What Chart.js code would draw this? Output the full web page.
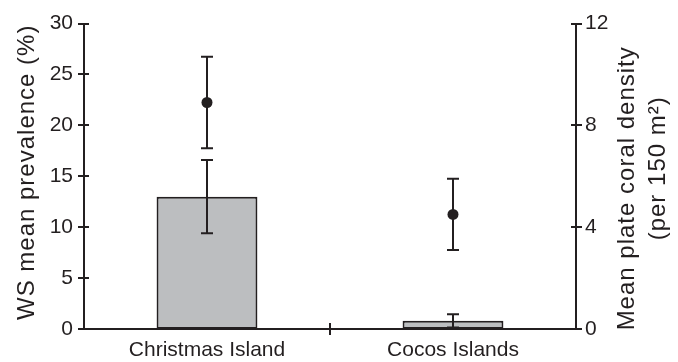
<!DOCTYPE html>
<html>
<head>
<meta charset="utf-8">
<script src="https://cdn.jsdelivr.net/npm/chart.js@4.4.1/dist/chart.umd.min.js"></script>
<style>
  html, body { margin: 0; padding: 0; background: #ffffff; }
  canvas { display: block; }
</style>
</head>
<body>
<canvas id="chart" width="678" height="362"></canvas>
<script>
// Sites
const categories = ['Christmas Island', 'Cocos Islands'];

// White syndrome mean prevalence (%) with error (bars, left axis)
const wsPrevalence = [13.0, 0.8];
const wsError = [3.6, 0.65];

// Mean plate coral density per 150 m2 with error (points, right axis)
const plateDensity = [8.9, 4.5];
const plateError = [1.8, 1.4];

// Axis tick values
const leftTicks = [0, 5, 10, 15, 20, 25, 30];
const rightTicks = [0, 4, 8, 12];

const leftTitle = 'WS mean prevalence (%)';
const rightTitle = ['Mean plate coral density', '(per 150 m\u00B2)'];

const INK = '#231f20';
const FONT = '"Liberation Sans", Arial, Helvetica, sans-serif';

// Error whiskers, axis tick marks and rotated axis titles
const decorations = {
  id: 'decorations',
  afterDatasetsDraw(chart) {
    const ctx = chart.ctx;
    const x = chart.scales.x;
    const sets = [
      { axis: chart.scales.y, mean: wsPrevalence, err: wsError },
      { axis: chart.scales.y1, mean: plateDensity, err: plateError }
    ];
    ctx.save();
    ctx.strokeStyle = INK;
    ctx.lineWidth = 2;
    ctx.lineCap = 'butt';
    sets.forEach(s => {
      s.mean.forEach((m, i) => {
        const px = Math.round(x.getPixelForValue(i));
        const top = s.axis.getPixelForValue(m + s.err[i]);
        const bot = s.axis.getPixelForValue(Math.max(0, m - s.err[i]));
        ctx.beginPath();
        ctx.moveTo(px, top); ctx.lineTo(px, bot);
        ctx.moveTo(px - 6, top); ctx.lineTo(px + 6, top);
        ctx.moveTo(px - 6, bot); ctx.lineTo(px + 6, bot);
        ctx.stroke();
      });
    });
    ctx.restore();
  },
  afterDraw(chart) {
    const ctx = chart.ctx;
    const { x, y, y1 } = chart.scales;
    const area = chart.chartArea;
    ctx.save();
    ctx.strokeStyle = INK;
    ctx.lineWidth = 2;
    ctx.beginPath();
    y.ticks.forEach(t => {
      const py = Math.round(y.getPixelForValue(t.value));
      ctx.moveTo(area.left - 6, py); ctx.lineTo(area.left + 5, py);
    });
    y1.ticks.forEach(t => {
      const py = Math.round(y1.getPixelForValue(t.value));
      ctx.moveTo(area.right - 5, py); ctx.lineTo(area.right + 6, py);
    });
    for (let i = 1; i < categories.length; i++) {
      const px = Math.round((x.getPixelForValue(i - 1) + x.getPixelForValue(i)) / 2);
      ctx.moveTo(px, area.bottom - 6); ctx.lineTo(px, area.bottom + 6);
    }
    ctx.stroke();

    ctx.fillStyle = INK;
    ctx.font = '24px ' + FONT;
    ctx.textAlign = 'center';
    ctx.textBaseline = 'alphabetic';
    const mid = (area.top + area.bottom) / 2;

    const drawUp = (text, bx, cy, spacing) => {
      ctx.save();
      if ('letterSpacing' in ctx) ctx.letterSpacing = spacing;
      ctx.translate(bx, cy);
      ctx.rotate(-Math.PI / 2);
      ctx.fillText(text, 0, 0);
      ctx.restore();
    };
    drawUp(leftTitle, 34, mid - 4, '1px');
    drawUp(rightTitle[0], 634, mid + 12, '1px');
    drawUp(rightTitle[1], 665, mid - 8, '1px');

    ctx.restore();
  }
};

new Chart(document.getElementById('chart'), {
  type: 'bar',
  data: {
    labels: categories,
    datasets: [
      {
        type: 'line',
        label: 'Plate coral density',
        data: plateDensity,
        yAxisID: 'y1',
        showLine: false,
        pointRadius: 5.5,
        pointBackgroundColor: INK,
        pointBorderWidth: 0,
        order: 0
      },
      {
        label: 'WS prevalence',
        data: wsPrevalence,
        yAxisID: 'y',
        backgroundColor: '#bcbec0',
        borderColor: INK,
        borderWidth: 2,
        borderSkipped: false,
        barPercentage: 0.41,
        categoryPercentage: 1,
        order: 1
      }
    ]
  },
  plugins: [decorations],
  options: {
    responsive: false,
    animation: false,
    devicePixelRatio: 1,
    layout: { padding: { top: 22, left: 0, right: 0, bottom: 0 } },
    plugins: { legend: { display: false }, tooltip: { enabled: false } },
    scales: {
      x: {
        type: 'category',
        offset: true,
        grid: { display: false, drawTicks: false },
        border: { display: true, color: INK, width: 2 },
        ticks: { color: INK, font: { family: FONT, size: 21 }, padding: 9, maxRotation: 0 },
        afterFit(s) { s.height = 33; }
      },
      y: {
        position: 'left',
        min: 0,
        max: 30,
        afterBuildTicks(s) { s.ticks = leftTicks.map(v => ({ value: v })); },
        grid: { display: false, drawTicks: false },
        border: { display: true, color: INK, width: 2 },
        ticks: { color: INK, font: { family: FONT, size: 21 }, padding: 11 },
        afterFit(s) { s.width = 84; }
      },
      y1: {
        position: 'right',
        min: 0,
        max: 12,
        afterBuildTicks(s) { s.ticks = rightTicks.map(v => ({ value: v })); },
        grid: { display: false, drawTicks: false },
        border: { display: true, color: INK, width: 2 },
        ticks: { color: INK, font: { family: FONT, size: 21 }, padding: 9 },
        afterFit(s) { s.width = 102; }
      }
    }
  }
});
</script>
</body>
</html>
